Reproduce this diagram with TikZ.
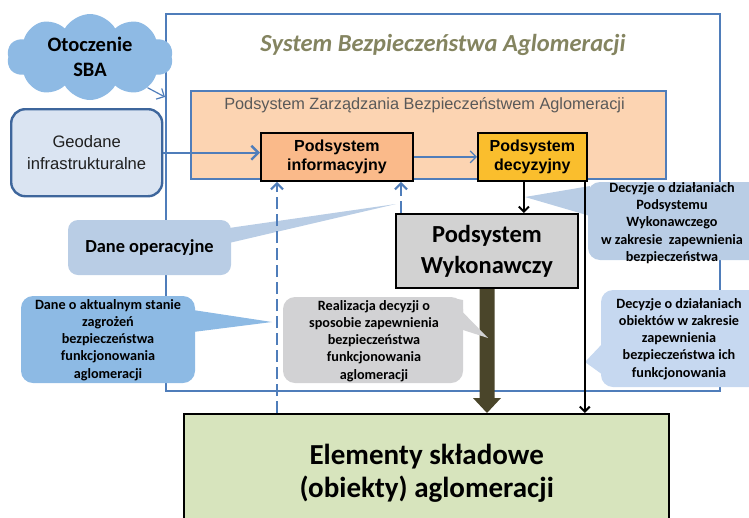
\documentclass[tikz,border=0pt]{standalone}
\usepackage{fontspec}
\setmainfont{Carlito}
\newfontfamily\arialf{Liberation Sans}
\usetikzlibrary{arrows.meta,shapes.symbols,calc}

\definecolor{frameblue}{RGB}{79,125,186}
\definecolor{titleolive}{RGB}{132,132,96}
\definecolor{cloudblue}{RGB}{142,186,228}
\definecolor{peach}{RGB}{252,212,178}
\definecolor{infoorange}{RGB}{250,186,138}
\definecolor{decgold}{RGB}{250,190,45}
\definecolor{geofill}{RGB}{218,228,242}
\definecolor{geoedge}{RGB}{62,102,156}
\definecolor{pwgray}{RGB}{210,210,210}
\definecolor{elgreen}{RGB}{215,228,189}
\definecolor{calloutlight}{RGB}{185,205,229}
\definecolor{calloutmid}{RGB}{141,186,228}
\definecolor{calloutpale}{RGB}{198,216,240}
\definecolor{calloutgray}{RGB}{210,210,212}
\definecolor{darkolive}{RGB}{74,69,42}
\definecolor{textgray}{RGB}{89,89,89}

\tikzset{
  solidbox/.style={draw=black, line width=1.8pt, inner sep=0pt, anchor=north west, align=center},
  arialbold/.style={font=\arialf\bfseries\fontsize{16}{19}\selectfont},
  ctext/.style={align=center, inner sep=0pt, font=\bfseries\fontsize{14.2}{17.2}\selectfont},
  bluelink/.style={draw=frameblue, line width=2.4pt, -{Straight Barb[length=7pt,width=14pt]}},
  thinlink/.style={draw=frameblue, line width=1.2pt, -{Straight Barb[length=6pt,width=12pt]}},
  dashlink/.style={draw=frameblue, line width=2.2pt, dash pattern=on 12pt off 5pt,
    -{Straight Barb[length=6pt,width=12pt]}},
  blacklink/.style={draw=black, line width=2pt, -{Straight Barb[length=5pt,width=10pt]}},
}

\begin{document}
\begin{tikzpicture}[x=1pt,y=-1pt]
\useasboundingbox (0,0) rectangle (749,517);
\clip (0,0) rectangle (749,517);

% outer system frame and its title
\node[draw=frameblue, line width=2pt, inner sep=0pt, anchor=north west,
      minimum width=554pt, minimum height=377pt] (sba) at (165,13) {};
\node[font=\bfseries\itshape\fontsize{24.5}{28}\selectfont, text=titleolive] (title)
  at (443,45) {System Bezpieczeństwa Aglomeracji};

% environment cloud
\node[cloud, cloud puffs=10, cloud puff arc=120, aspect=2, fill=cloudblue,
      minimum width=166pt, minimum height=86pt, inner sep=0pt, align=center,
      font=\bfseries\fontsize{20.5}{25}\selectfont] (cloud) at (90,57) {Otoczenie\\SBA};

% management subsystem
\node[draw=frameblue, fill=peach, line width=2pt, inner sep=0pt, anchor=north west,
      minimum width=475pt, minimum height=88pt] (pzba) at (190,90) {};
\node[font=\arialf\fontsize{16.3}{19}\selectfont, text=textgray] (pzbalabel)
  at (424.5,105) {Podsystem Zarządzania Bezpieczeństwem Aglomeracji};

\node[solidbox, arialbold, fill=infoorange, minimum width=152pt, minimum height=48pt]
  (info) at (260,132) {Podsystem\\informacyjny};
\node[solidbox, arialbold, fill=decgold, minimum width=109pt, minimum height=48pt]
  (dec) at (477,132) {Podsystem\\decyzyjny};

% external data source
\node[draw=geoedge, fill=geofill, line width=2.4pt, rounded corners=14pt, inner sep=0pt,
      anchor=north west, align=center, minimum width=151pt, minimum height=87pt,
      text=black!88, font=\arialf\fontsize{16.6}{21.5}\selectfont]
  (geo) at (10,108) {Geodane\\infrastrukturalne};

% executive subsystem
\node[solidbox, fill=pwgray, line width=2pt, minimum width=182pt, minimum height=74pt,
      font=\bfseries\fontsize{24.5}{31}\selectfont] (pw) at (395,213) {Podsystem\\Wykonawczy};

% agglomeration elements
\node[solidbox, fill=elgreen, line width=2.4pt, minimum width=485pt, minimum height=119pt,
      font=\bfseries\fontsize{29}{33}\selectfont] (el) at (183,413)
  {Elementy składowe\\(obiekty) aglomeracji};

% wide execution arrow
\fill[darkolive] ($(pw.south)+(-7.5,0)$) -- ($(pw.south |- el.north)+(-7.5,-15)$)
  -- ($(pw.south |- el.north)+(-14,-15)$) -- (pw.south |- el.north)
  -- ($(pw.south |- el.north)+(14,-15)$) -- ($(pw.south |- el.north)+(7.5,-15)$)
  -- ($(pw.south)+(7.5,0)$) -- cycle;

% callouts
\fill[calloutlight, rounded corners=10pt] (68,220) rectangle (231,275);
\fill[calloutlight] (229,228) -- (396,204) -- (229,243) -- cycle;
\node[ctext, font=\bfseries\fontsize{18.4}{22}\selectfont] (dop) at (149.5,248) {Dane operacyjne};

\fill[calloutmid, rounded corners=12pt] (21,296) rectangle (195,383);
\fill[calloutmid] (193,310) -- (272,322) -- (193,332) -- cycle;
\node[ctext] (dak) at (108,340)
  {Dane o aktualnym stanie\\zagrożeń\\bezpieczeństwa\\funkcjonowania\\aglomeracji};

\fill[calloutgray, rounded corners=12pt] (283,297) rectangle (463,383);
\fill[calloutgray] (448,297) -- (488,338) -- (463,330) -- (463,300) -- cycle;
\node[ctext] (real) at (374,341)
  {Realizacja decyzji o\\sposobie zapewnienia\\bezpieczeństwa\\funkcjonowania\\aglomeracji};

\fill[calloutlight, rounded corners=12pt] (588,182) rectangle (770,260);
\fill[calloutlight] (590,186) -- (525,197) -- (590,216) -- cycle;
\node[ctext] (dpw) at (672,223)
  {Decyzje o działaniach\\Podsystemu\\Wykonawczego\\w zakresie\ \ zapewnienia\\bezpieczeństwa};

\fill[calloutpale, rounded corners=12pt] (601,290) rectangle (770,387);
\fill[calloutpale] (603,343) -- (585,362) -- (603,375) -- cycle;
\node[ctext] (dob) at (679,339)
  {Decyzje o działaniach\\obiektów w zakresie\\zapewnienia\\bezpieczeństwa ich\\funkcjonowania};

% connectors
\coordinate (sbain) at ($(sba.north west)+(0,84)$);
\draw[thinlink] (cloud) -- (sbain);
\draw[bluelink] (geo.east) -- (geo.east -| info.west);
\draw[thinlink] (info.east) -- (dec.west);
\draw[blacklink] ([xshift=-8.5pt]dec.south) -- ([xshift=-8.5pt]dec.south |- pw.north);
\draw[blacklink] ([xshift=-3pt]dec.south east) -- ([xshift=-3pt]dec.south east |- el.north);
\draw[dashlink] ([xshift=17pt]info.south west |- el.north) -- ([xshift=17pt]info.south west);
\draw[dashlink] ([xshift=6pt]pw.north west) -- ([xshift=6pt]pw.north west |- info.south);
\end{tikzpicture}
\end{document}
